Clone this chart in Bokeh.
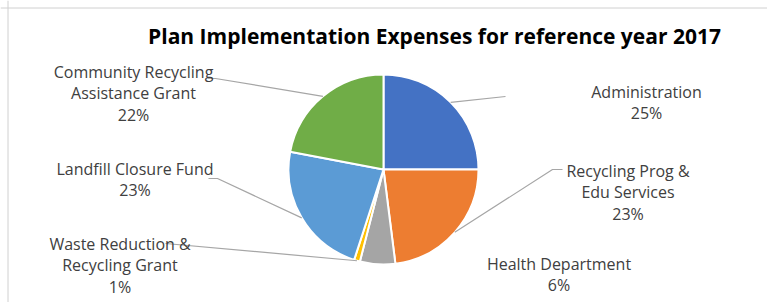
import math
from bokeh.plotting import figure
from bokeh.models import Range1d, Span
from bokeh.core.properties import value
from bokeh.embed import file_html
from bokeh.resources import INLINE

# ---------------- data ----------------
chart_title = "Plan Implementation Expenses for reference year 2017"
categories = ["Administration", "Recycling Prog & Edu Services", "Health Department",
              "Waste Reduction & Recycling Grant", "Landfill Closure Fund",
              "Community Recycling Assistance Grant"]
label_lines = [["Administration"], ["Recycling Prog &", "Edu Services"], ["Health Department"],
               ["Waste Reduction &", "Recycling Grant"], ["Landfill Closure Fund"],
               ["Community Recycling", "Assistance Grant"]]
shares = [25, 23, 6, 1, 23, 22]
colors = ["#4472C4", "#ED7D31", "#A5A5A5", "#FFC000", "#5B9BD5", "#70AD47"]

# ---------------- layout (picture pixels) ----------------
W, H = 767, 302
OX, OY = 0, 0


def to_data(sx, sy):
    return sx - OX, (OY + H) - sy


CX, CY = to_data(383, 169)
R = 95
LINE_H = 21.5
# label block anchor: center x, first baseline y
label_pos = [(646, 91), (627.5, 170), (558.5, 263), (119.5, 243), (134.5, 168), (133, 71)]
# leader line: points after the pie-edge start
leader_pts = [[(505, 96)], [(552, 169), (562, 169)], None,
              [(165, 243)], [(217, 178), (208, 178)], [(215, 78), (207, 78)]]

p = figure(width=W, height=H, output_backend="svg", toolbar_location=None,
           x_range=Range1d(0, W), y_range=Range1d(0, H), min_border=0,
           outline_line_color=None, background_fill_color="white")
p.axis.visible = False
p.xgrid.visible = False
p.ygrid.visible = False

# chart-area frame lines (left and top visible in reference)
fx, fy = to_data(7.5, 7.5)
p.add_layout(Span(location=fx, dimension="height", line_color="#D0D0D0", line_width=1))
p.add_layout(Span(location=fy, dimension="width", line_color="#D0D0D0", line_width=1))

total = float(sum(shares))
cum = 0.0
starts, ends, mids = [], [], []
for s in shares:
    a0 = cum / total
    cum += s
    a1 = cum / total
    starts.append(math.pi / 2 - a1 * 2 * math.pi)
    ends.append(math.pi / 2 - a0 * 2 * math.pi)
    mids.append(math.pi / 2 - (a0 + a1) / 2 * 2 * math.pi)

p.wedge(x=[CX] * len(shares), y=[CY] * len(shares), radius=R,
        start_angle=starts, end_angle=ends, fill_color=colors,
        line_color="white", line_width=2)

# leader lines
for i, pts in enumerate(leader_pts):
    if pts is None:
        continue
    xs = [CX + R * math.cos(mids[i])]
    ys = [CY + R * math.sin(mids[i])]
    for sx, sy in pts:
        dx, dy = to_data(sx, sy)
        xs.append(dx)
        ys.append(dy)
    p.line(xs, ys, line_color="#A6A6A6", line_width=1.2)

# labels
for i, lines in enumerate(label_lines):
    sx, sy = label_pos[i]
    all_lines = lines + [f"{shares[i]}%"]
    for k, t in enumerate(all_lines):
        dx, dy = to_data(sx, sy + k * LINE_H)
        p.text(x=[dx], y=[dy], text=[t], text_align="center", text_baseline="alphabetic",
               text_font=value("Open Sans"), text_font_size="16px", text_color="#404040")

# title
tx, ty = to_data(434, 35)
p.text(x=[tx], y=[ty], text=[chart_title], text_align="center", text_baseline="alphabetic",
       text_font=value("Open Sans"), text_font_style="bold", text_font_size="21px",
       text_color="#000000")

open("out.html", "w").write(file_html(p, INLINE))
